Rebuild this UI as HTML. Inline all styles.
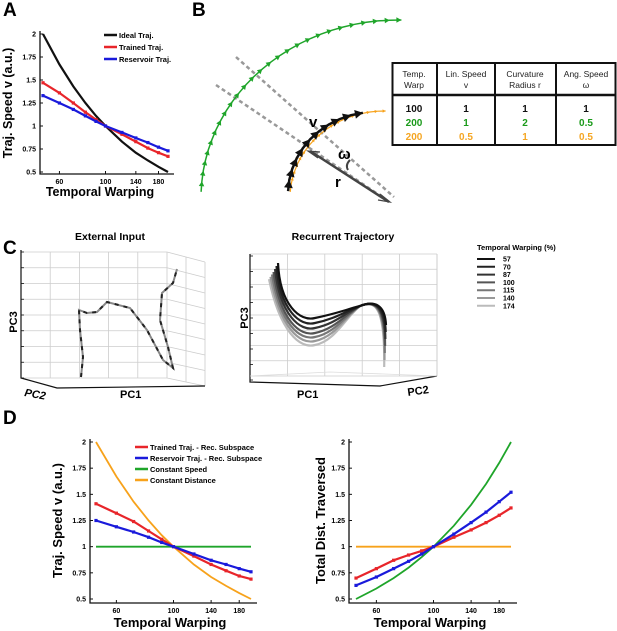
<!DOCTYPE html>
<html><head><meta charset="utf-8">
<style>
body{margin:0;background:#fff;}
svg{display:block;font-family:"Liberation Sans",Arial,sans-serif;}
.b{font-weight:bold;}
</style></head>
<body>
<svg id="fig" width="617" height="631" viewBox="0 0 617 631" xmlns="http://www.w3.org/2000/svg">
<text x="3" y="16" font-size="19" class="b">A</text>
<text x="192" y="16" font-size="19" class="b">B</text>
<text x="3" y="254" font-size="19" class="b">C</text>
<text x="3" y="424" font-size="19" class="b">D</text>

<g font-size="8.5">
<rect x="392.5" y="63" width="223" height="82" fill="none" stroke="#111" stroke-width="2"/>
<line x1="392" y1="95" x2="616" y2="95" stroke="#111" stroke-width="2.5"/>
<line x1="437" y1="63" x2="437" y2="145" stroke="#111" stroke-width="2"/>
<line x1="495" y1="63" x2="495" y2="145" stroke="#111" stroke-width="2"/>
<line x1="556" y1="63" x2="556" y2="145" stroke="#111" stroke-width="2"/>
<g text-anchor="middle" fill="#222">
<text x="414" y="77">Temp.</text><text x="414" y="88">Warp</text>
<text x="466" y="77">Lin. Speed</text><text x="466" y="88">v</text>
<text x="525" y="77">Curvature</text><text x="525" y="88">Radius r</text>
<text x="586" y="77">Ang. Speed</text><text x="586" y="88">ω</text>
</g>
<g text-anchor="middle" font-size="10" class="b">
<text x="414" y="112" fill="#111">100</text><text x="466" y="112" fill="#111">1</text><text x="525" y="112" fill="#111">1</text><text x="586" y="112" fill="#111">1</text>
<text x="414" y="126" fill="#1a9a1a">200</text><text x="466" y="126" fill="#1a9a1a">1</text><text x="525" y="126" fill="#1a9a1a">2</text><text x="586" y="126" fill="#1a9a1a">0.5</text>
<text x="414" y="140" fill="#f5a623">200</text><text x="466" y="140" fill="#f5a623">0.5</text><text x="525" y="140" fill="#f5a623">1</text><text x="586" y="140" fill="#f5a623">0.5</text>
</g>
</g>
<g id="panelB">
<line x1="236" y1="57" x2="394" y2="197" stroke="#999" stroke-width="2.5" stroke-dasharray="4,3"/>
<line x1="216" y1="85" x2="388" y2="201" stroke="#999" stroke-width="2.5" stroke-dasharray="4,3"/>
<line x1="310" y1="151" x2="389" y2="202" stroke="#444" stroke-width="2.5"/>
<path d="M318,158 L308,151 L320,152" fill="none" stroke="#444" stroke-width="1.2"/>
<path d="M380,194 L390,202 L378,200" fill="none" stroke="#444" stroke-width="1.2"/>
<text x="309" y="127" font-size="15" class="b">v</text>
<text x="338" y="159" font-size="15" class="b">ω</text>
<path d="M350,160 Q345,165 348,170" fill="none" stroke="#444" stroke-width="2"/>
<text x="335" y="187" font-size="15" class="b">r</text>
</g>

<text x="110" y="240" font-size="10.5" class="b" text-anchor="middle">External Input</text>
<text x="343" y="240" font-size="10.5" class="b" text-anchor="middle">Recurrent Trajectory</text>
<g id="cube1" stroke="#ccc" stroke-width="0.8" fill="none"></g>
<g id="cube2" stroke="#ccc" stroke-width="0.8" fill="none"></g>
<text transform="translate(17,322) rotate(-90)" font-size="11" class="b" text-anchor="middle">PC3</text>
<text transform="translate(24,396) rotate(10)" font-size="11" class="b" font-style="italic">PC2</text>
<text x="120" y="398" font-size="11" class="b">PC1</text>
<text transform="translate(248,318) rotate(-90)" font-size="11" class="b" text-anchor="middle">PC3</text>
<text x="297" y="398" font-size="11" class="b">PC1</text>
<text transform="translate(408,396) rotate(-8)" font-size="11" class="b">PC2</text>
<g id="input-traj"></g>
<g id="rec-trajs"></g>
<text x="477" y="250" font-size="7.5" class="b">Temporal Warping (%)</text>
<g id="c-legend"></g>

<g id="chartA"></g>
<g id="chartD1"></g>
<g id="chartD2"></g>
</svg>
<script>
const NS="http://www.w3.org/2000/svg";
const warpA=[50,60,70,80,90,100,120,140,160,180,200];
const idealA=[2.0,1.67,1.43,1.25,1.11,1.0,0.83,0.71,0.625,0.556,0.5];
const trainedA=[1.47,1.36,1.25,1.15,1.07,1.0,0.91,0.83,0.76,0.71,0.67];
const reservoirA=[1.33,1.25,1.18,1.11,1.05,1.0,0.93,0.87,0.82,0.77,0.73];
const warpD=[50,60,70,80,90,100,120,140,160,180,200];
const trainedSpeedD=[1.41,1.32,1.24,1.15,1.07,1.0,0.91,0.83,0.77,0.72,0.69];
const reservoirSpeedD=[1.25,1.19,1.14,1.09,1.04,1.0,0.93,0.87,0.83,0.79,0.76];
const constSpeedD=[1,1,1,1,1,1,1,1,1,1,1];
const constDistD=[2.0,1.67,1.43,1.25,1.11,1.0,0.83,0.71,0.625,0.556,0.5];
const trainedDistD=[0.70,0.79,0.87,0.92,0.96,1.0,1.09,1.16,1.23,1.30,1.37];
const reservoirDistD=[0.63,0.71,0.79,0.86,0.93,1.0,1.12,1.23,1.33,1.43,1.52];
const constSpeedDistD=[0.5,0.6,0.7,0.8,0.9,1.0,1.2,1.4,1.6,1.8,2.0];
const constDistDistD=[1,1,1,1,1,1,1,1,1,1,1];
const xTicks=[60,100,140,180];
const yTicks=[0.5,0.75,1,1.25,1.5,1.75,2];
const yTickLabels=["0.5","0.75","1","1.25","1.5","1.75","2"];
const warpLegend=["57","70","87","100","115","140","174"];
const warpShade=["#111","#222","#333","#555","#777","#999","#bbb"];

function el(tag,attrs,parent){const e=document.createElementNS(NS,tag);for(const k in attrs)e.setAttribute(k,attrs[k]);parent.appendChild(e);return e;}

function chart(g,o){
  const xs=v=>o.x0+(Math.log(v)-Math.log(50))/(Math.log(200)-Math.log(50))*(o.x1-o.x0);
  const ys=v=>o.yb+(v-0.5)/1.5*(o.yt-o.yb);
  const ax=el('path',{d:`M${o.ax},${o.yt-3} V${o.ay} H${o.x1+6}`,stroke:'#111','stroke-width':1.3,fill:'none'},g);
  
  
  yTicks.forEach((t,i)=>{
    el('line',{x1:o.ax,x2:o.ax+3,y1:ys(t),y2:ys(t),stroke:'#111'},g);
    const tx=el('text',{x:o.ax-4,y:ys(t)+2.5,'font-size':7,'font-weight':'bold','text-anchor':'end'},g);
    tx.textContent=yTickLabels[i];
    
    
  });
  xTicks.forEach(t=>{
    el('line',{x1:xs(t),x2:xs(t),y1:o.ay,y2:o.ay-3,stroke:'#111'},g);
    const tx=el('text',{x:xs(t),y:o.ay+10,'font-size':7,'font-weight':'bold','text-anchor':'middle'},g);
    tx.textContent=t;
    
    
  });
  o.series.forEach(s=>{
    const d=s.y.map((v,i)=>(i?'L':'M')+xs(o.xv[i]).toFixed(1)+','+ys(v).toFixed(1)).join(' ');
    const p=el('path',{d:d,stroke:s.c,'stroke-width':s.w||2.2,fill:'none'},g);
    
    
    if(s.m){s.y.forEach((v,i)=>{const c=el('rect',{x:xs(o.xv[i])-1.6,y:ys(v)-1.6,width:3.2,height:3.2,fill:s.c},g);
      
      });}
  });
  const yt=el('text',{transform:`translate(${o.ytx},${(o.yt+o.yb)/2}) rotate(-90)`,'font-size':o.fs,'font-weight':'bold','text-anchor':'middle'},g);
  yt.textContent=o.ytitle;
  
  
  const xt=el('text',{x:o.xtx,y:o.xty,'font-size':o.fs,'font-weight':'bold','text-anchor':'middle'},g);
  xt.textContent='Temporal Warping';
  
  
  (o.legend||[]).forEach((l,i)=>{
    const y=o.ly+i*o.ld;
    el('line',{x1:o.lx,x2:o.lx+13,y1:y,y2:y,stroke:l[1],'stroke-width':2.5},g);
    const t=el('text',{x:o.lx+15,y:y+2.8,'font-size':7.5,'font-weight':'bold'},g);
    t.textContent=l[0];
    
    
  });
}
const RED='#e8252a',BLUE='#1a1adb',GREEN='#1fa52a',ORANGE='#f7a21b';
chart(document.getElementById('chartA'),{x0:43,x1:168,yt:34,yb:172,ax:40,ay:174,xv:warpA,ytx:12,xtx:100,xty:196,fs:12.5,ytitle:'Traj.  Speed v (a.u.)',
 series:[{y:idealA,c:'#111',name:'ideal-traj-line'},{y:trainedA,c:RED,m:1,name:'trained-traj-line'},{y:reservoirA,c:BLUE,m:1,name:'reservoir-traj-line'}],
 legend:[['Ideal Traj.','#111'],['Trained Traj.',RED],['Reservoir Traj.',BLUE]],lx:104,ly:35,ld:12});
chart(document.getElementById('chartD1'),{x0:96,x1:251,yt:442,yb:599,ax:90,ay:603,xv:warpD,ytx:62,xtx:170,xty:627,fs:13,ytitle:'Traj. Speed v (a.u.)',
 series:[{y:constDistD,c:ORANGE,w:1.8,name:'constant-distance-line'},{y:constSpeedD,c:GREEN,w:1.8,name:'constant-speed-line'},{y:trainedSpeedD,c:RED,m:1,name:'trained-speed-line'},{y:reservoirSpeedD,c:BLUE,m:1,name:'reservoir-speed-line'}],
 legend:[['Trained Traj. - Rec. Subspace',RED],['Reservoir Traj. - Rec. Subspace',BLUE],['Constant Speed',GREEN],['Constant Distance',ORANGE]],lx:135,ly:447,ld:11});
chart(document.getElementById('chartD2'),{x0:356,x1:511,yt:442,yb:599,ax:349,ay:603,xv:warpD,ytx:325,xtx:430,xty:627,fs:13,ytitle:'Total Dist. Traversed',
 series:[{y:constDistDistD,c:ORANGE,w:1.8,name:'constant-distance-line'},{y:constSpeedDistD,c:GREEN,w:1.8,name:'constant-speed-line'},{y:trainedDistD,c:RED,m:1,name:'trained-distance-line'},{y:reservoirDistD,c:BLUE,m:1,name:'reservoir-distance-line'}]});

const B=document.getElementById('panelB');
function arc(cx,cy,rx,ry,a0,a1,n,col,sz,w,name){
  const pts=[];for(let i=0;i<=n;i++){const a=(a0+(a1-a0)*i/n)*Math.PI/180;pts.push([cx+rx*Math.cos(a),cy-ry*Math.sin(a)]);}
  const p=el('path',{d:pts.map((q,i)=>(i?'L':'M')+q[0].toFixed(1)+','+q[1].toFixed(1)).join(' '),stroke:col,'stroke-width':w,fill:'none'},B);
  
  
  for(let i=1;i<=n;i++){const [x,y]=pts[i],[px,py]=pts[i-1];const ang=Math.atan2(y-py,x-px)*180/Math.PI;
    el('path',{d:`M0,0 L${-sz},${-sz*0.55} L${-sz},${sz*0.55} Z`,fill:col,transform:`translate(${x.toFixed(1)},${y.toFixed(1)}) rotate(${ang.toFixed(1)})`},B);}
}
arc(398,198,197,178,178,89,26,GREEN,5,1.5,'green-arc');
arc(384,198,94,87,176,89,18,ORANGE,3,1.2,'orange-arc');
arc(375,194,87,82,178,98,10,'#111',8,2.5,'black-arc');

function cube(g,L,R,T,Bt,rx,rt,rb){
  const gg=document.getElementById(g);
  for(let i=0;i<=5;i++){const x=L+(R-L)*i/5;el('line',{x1:x,y1:T,x2:x,y2:Bt},gg);}
  for(let i=0;i<=8;i++){const y=T+(Bt-T)*i/8;el('line',{x1:L,y1:y,x2:R,y2:y},gg);
    el('line',{x1:R,y1:y,x2:rx,y2:rt+(rb-rt)*i/8},gg);}
  el('line',{x1:(R+rx)/2,y1:(T+rt)/2,x2:(R+rx)/2,y2:(Bt+rb)/2},gg);
  el('line',{x1:rx,y1:rt,x2:rx,y2:rb},gg);
}
cube('cube1',21,167,252,378,205,262,386);
cube('cube2',250,437,254,376,437,254,376);
const c1=document.getElementById('cube1');
el('path',{d:'M21,250 V378 L57,388 L205,386',stroke:'#111','stroke-width':1.2},c1);
for(let i=0;i<=8;i++)el('line',{x1:21,x2:24,y1:252+i*15.75,y2:252+i*15.75,stroke:'#111'},c1);
const c2=document.getElementById('cube2');
el('path',{d:'M250,254 V382 L380,386 L437,376',stroke:'#111','stroke-width':1.2},c2);
el('path',{d:'M250,376 L330,372 L437,376',stroke:'#ddd'},c2);
for(let i=0;i<=8;i++)el('line',{x1:250,x2:253,y1:256+i*15.5,y2:256+i*15.5,stroke:'#111'},c2);

const inPts=[[81,377],[83,357],[80,330],[79,310],[87,313],[97,312],[107,302],[130,308],[147,330],[163,360],[173,368],[168,347],[160,320],[162,293],[173,283],[177,269]];
const ig=document.getElementById('input-traj');
el('path',{d:inPts.map((q,i)=>(i?'L':'M')+q).join(' '),stroke:'#888','stroke-width':2,fill:'none'},ig);
el('path',{d:inPts.map((q,i)=>(i?'L':'M')+q).join(' '),stroke:'#222','stroke-width':2,fill:'none','stroke-dasharray':'4,5'},ig);

const recOffset=[0,5,10,15,19,23,27];
const rg=document.getElementById('rec-trajs');
for(let i=recOffset.length-1;i>=0;i--){
  const o=recOffset[i];
  const d=`M${278-i*1.5},${263+o*0.6} C${280},${305+o} ${300},${322+o} ${315},${318+o} C${335},${314+o} ${345},${310+o*0.3} ${360},${306} C${375},${300} ${385},${305} ${386-i*0.3},${325+i*7}`;
  const p=el('path',{d:d,stroke:warpShade[i],'stroke-width':2.2,fill:'none'},rg);
  
  
}
const lg=document.getElementById('c-legend');
warpLegend.forEach((w,i)=>{const y=259+i*7.8;
  el('line',{x1:477,x2:495,y1:y,y2:y,stroke:warpShade[i],'stroke-width':2},lg);
  const t=el('text',{x:503,y:y+2.5,'font-size':7,'font-weight':'bold'},lg);t.textContent=w;
  
  });
</script>
</body></html>
